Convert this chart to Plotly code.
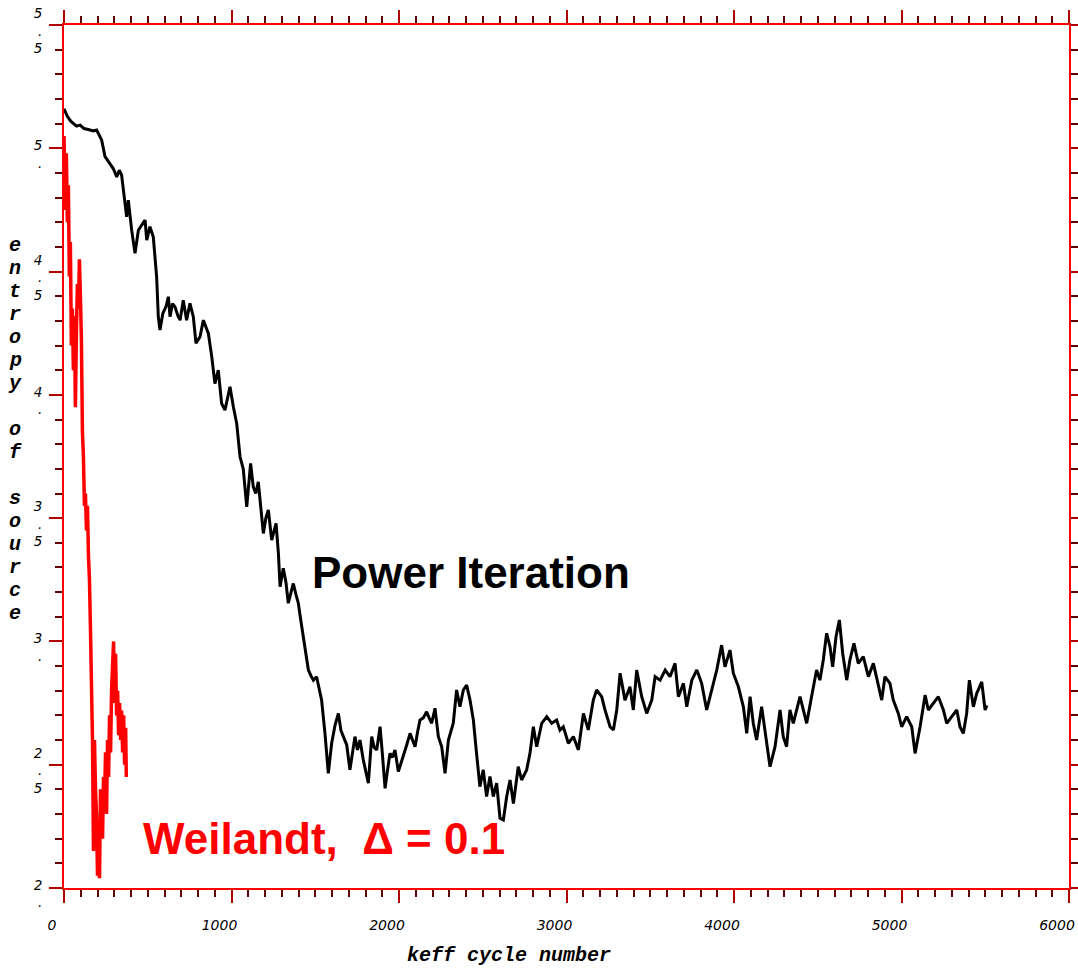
import plotly.graph_objects as go

# ---------------- data ----------------
power_x = [0, 20, 40, 56, 75, 96, 120, 150, 175, 195, 210, 225, 245, 264, 280, 294, 315, 330, 344, 364,
           374, 384, 404, 424, 444, 465, 484, 494, 513, 533, 553, 563, 573, 590, 610, 623, 633, 648, 663, 680,
           693, 712, 732, 752, 772, 788, 812, 832, 848, 862, 882, 901, 921, 941, 961, 978, 991, 1011, 1031, 1051,
           1070, 1091, 1114, 1130, 1145, 1160, 1175, 1190, 1205, 1220, 1240, 1266, 1280, 1290, 1309, 1325, 1339,
           1355, 1369, 1385, 1399, 1415, 1429, 1445, 1459, 1475, 1489, 1508, 1525, 1538, 1558, 1578, 1598, 1618,
           1638, 1653, 1668, 1688, 1707, 1722, 1737, 1752, 1767, 1787, 1805, 1817, 1837, 1852, 1867, 1887, 1900,
           1917, 1932, 1946, 1961, 1976, 1996, 2010, 2026, 2046, 2066, 2081, 2096, 2110, 2125, 2145, 2165, 2180,
           2195, 2215, 2235, 2255, 2275, 2295, 2310, 2324, 2344, 2364, 2384, 2404, 2424, 2444, 2463, 2483, 2503,
           2523, 2543, 2563, 2583, 2603, 2623, 2643, 2663, 2683, 2698, 2712, 2732, 2762, 2782, 2802, 2822, 2837,
           2852, 2882, 2912, 2941, 2961, 2981, 3011, 3041, 3071, 3101, 3130, 3160, 3180, 3210, 3230, 3260, 3280,
           3300, 3320, 3349, 3379, 3399, 3419, 3449, 3479, 3509, 3529, 3559, 3589, 3618, 3648, 3668, 3698, 3718,
           3748, 3778, 3807, 3837, 3867, 3897, 3926, 3946, 3976, 3996, 4026, 4056, 4076, 4096, 4115, 4135, 4165,
           4185, 4215, 4245, 4275, 4294, 4314, 4334, 4354, 4394, 4434, 4463, 4493, 4513, 4533, 4553, 4573, 4589,
           4609, 4629, 4649, 4673, 4692, 4716, 4742, 4772, 4802, 4832, 4862, 4882, 4901, 4931, 4951, 4981, 5001,
           5031, 5061, 5081, 5111, 5141, 5160, 5190, 5220, 5250, 5270, 5300, 5330, 5349, 5369, 5389, 5405, 5429,
           5449, 5479, 5499, 5510]
power_y = [5.16, 5.13, 5.11, 5.10, 5.09, 5.094, 5.08, 5.075, 5.07, 5.074, 5.05, 5.033, 4.966, 4.946, 4.93,
           4.918, 4.884, 4.911, 4.891, 4.79, 4.722, 4.79, 4.668, 4.574, 4.668, 4.69, 4.709, 4.628, 4.682, 4.641,
           4.479, 4.317, 4.263, 4.33, 4.36, 4.398, 4.317, 4.37, 4.357, 4.32, 4.303, 4.384, 4.303, 4.371, 4.317,
           4.209, 4.236, 4.303, 4.27, 4.249, 4.155, 4.046, 4.1, 3.965, 3.938, 4.0, 4.033, 3.952, 3.884, 3.749,
           3.70, 3.546, 3.722, 3.627, 3.60, 3.647, 3.55, 3.438, 3.50, 3.533, 3.411, 3.479, 3.357, 3.222, 3.297,
           3.24, 3.155, 3.20, 3.235, 3.19, 3.155, 3.08, 3.019, 2.95, 2.884, 2.86, 2.843, 2.857, 2.80, 2.762,
           2.627, 2.465, 2.587, 2.66, 2.708, 2.64, 2.614, 2.58, 2.479, 2.55, 2.614, 2.56, 2.60, 2.519, 2.47,
           2.425, 2.614, 2.57, 2.56, 2.654, 2.55, 2.404, 2.48, 2.546, 2.53, 2.56, 2.472, 2.50, 2.533, 2.58,
           2.627, 2.60, 2.573, 2.63, 2.681, 2.69, 2.715, 2.69, 2.668, 2.729, 2.614, 2.573, 2.465, 2.60, 2.64,
           2.668, 2.803, 2.735, 2.803, 2.823, 2.762, 2.681, 2.546, 2.411, 2.479, 2.371, 2.452, 2.371, 2.425,
           2.283, 2.276, 2.371, 2.438, 2.343, 2.42, 2.492, 2.438, 2.479, 2.546, 2.654, 2.573, 2.62, 2.668,
           2.695, 2.668, 2.681, 2.64, 2.654, 2.587, 2.614, 2.56, 2.708, 2.641, 2.762, 2.803, 2.776, 2.722,
           2.654, 2.641, 2.722, 2.871, 2.762, 2.816, 2.722, 2.884, 2.776, 2.708, 2.762, 2.857, 2.843, 2.884,
           2.857, 2.911, 2.776, 2.830, 2.735, 2.843, 2.884, 2.830, 2.722, 2.803, 2.884, 2.985, 2.897, 2.965,
           2.871, 2.816, 2.735, 2.627, 2.776, 2.668, 2.60, 2.735, 2.641, 2.492, 2.573, 2.722, 2.614, 2.573,
           2.722, 2.668, 2.776, 2.668, 2.776, 2.884, 2.843, 2.925, 3.033, 2.979, 2.897, 3.019, 3.087, 2.951,
           2.843, 2.925, 2.992, 2.911, 2.938, 2.857, 2.911, 2.816, 2.762, 2.857, 2.830, 2.762, 2.708, 2.654,
           2.695, 2.654, 2.546, 2.654, 2.783, 2.722, 2.749, 2.776, 2.722, 2.668, 2.695, 2.722, 2.654, 2.627,
           2.708, 2.843, 2.735, 2.789, 2.836, 2.722, 2.74]

weil_x = [0, 8, 14, 20, 26, 32, 38, 44, 50, 56, 62, 68, 74, 80, 86, 92, 98, 104, 110, 116, 122, 128, 134,
          140, 146, 152, 158, 164, 170, 176, 182, 188, 194, 200, 206, 212, 218, 224, 230, 236, 242, 248, 254,
          260, 266, 272, 278, 284, 290, 296, 302, 308, 314, 320, 326, 332, 338, 344, 350, 356, 362, 368, 372]
weil_y = [5.05, 4.75, 4.98, 4.70, 4.85, 4.48, 4.62, 4.20, 4.35, 4.10, 4.32, 3.95, 4.25, 4.45, 4.35, 4.55,
          4.40, 4.22, 3.85, 3.75, 3.55, 3.60, 3.45, 3.55, 3.35, 3.25, 3.05, 2.85, 2.60, 2.15, 2.60, 2.40, 2.30,
          2.05, 2.10, 2.04, 2.40, 2.30, 2.20, 2.45, 2.35, 2.55, 2.30, 2.60, 2.45, 2.70, 2.55, 2.80, 2.95, 3.00,
          2.75, 2.95, 2.70, 2.80, 2.62, 2.75, 2.60, 2.72, 2.55, 2.70, 2.50, 2.65, 2.45]

x_tick_vals = [0, 1000, 2000, 3000, 4000, 5000, 6000]
x_tick_text = ["0", "1000", "2000", "3000", "4000", "5000", "6000"]
y_tick_vals = [2.0, 2.5, 3.0, 3.5, 4.0, 4.5, 5.0, 5.5]
y_tick_text = ["2<br>.", "2<br>.<br>5", "3<br>.", "3<br>.<br>5", "4<br>.", "4<br>.<br>5", "5<br>.", "5<br>.<br>5"]

x_title = "keff cycle number"
y_title = "entropy of source"
label_power = "Power Iteration"
label_weil = "Weilandt,\u00a0 \u0394 = 0.1"

# ---------------- figure ----------------
fig = go.Figure()
fig.add_trace(go.Scatter(x=power_x, y=power_y, mode="lines",
                         line=dict(color="black", width=3), hoverinfo="skip"))
fig.add_trace(go.Scatter(x=weil_x, y=weil_y, mode="lines",
                         line=dict(color="#ff0000", width=3.5), hoverinfo="skip"))

axis_common = dict(showline=True, linecolor="#ff0000", linewidth=2, mirror="allticks",
                   ticks="outside", ticklen=13, tickwidth=1.5, tickcolor="#b00000",
                   showgrid=False, zeroline=False, automargin=False, ticklabeloverflow="allow")

fig.update_xaxes(range=[0, 6000], tickmode="array", tickvals=x_tick_vals, ticktext=x_tick_text,
                 minor=dict(dtick=100, ticklen=7, tickwidth=1.5, tickcolor="#600000", ticks="outside"),
                 tickfont=dict(family="DejaVu Sans", size=14, color="black", style="italic"),
                 ticklabelstandoff=10, ticklabelshift=-12, **axis_common)
fig.update_yaxes(range=[2, 5.5001], tickmode="array", tickvals=y_tick_vals, ticktext=y_tick_text,
                 minor=dict(dtick=0.1, ticklen=7, tickwidth=1.5, tickcolor="#600000", ticks="outside"),
                 tickfont=dict(family="DejaVu Sans", size=13.5, color="black", style="italic"),
                 ticklabelstandoff=4, ticklabelshift=6, **axis_common)

annotations = []
# x-axis title
annotations.append(dict(text=x_title, xref="paper", yref="paper", x=0.443, y=-0.078,
                        showarrow=False, xanchor="center", yanchor="middle",
                        font=dict(family="Liberation Mono", size=20, color="black",
                                  weight="bold", style="italic")))
# y-axis title, one character per line
for i, ch in enumerate(y_title):
    if ch == " ":
        continue
    py = 245 + i * 23
    annotations.append(dict(text=ch, xref="paper", yref="paper", x=(15 - 64) / 1005,
                            y=(888 - py) / 863, showarrow=False, xanchor="center", yanchor="middle",
                            font=dict(family="Liberation Mono", size=20, color="black",
                                      weight="bold", style="italic")))
annotations.append(dict(text=label_power, x=2430, y=3.28, xref="x", yref="y", showarrow=False,
                        xanchor="center", yanchor="middle",
                        font=dict(family="Liberation Sans", size=44, color="black", weight="bold")))
annotations.append(dict(text=label_weil, x=1552, y=2.2, xref="x", yref="y", showarrow=False,
                        xanchor="center", yanchor="middle",
                        font=dict(family="Liberation Sans", size=44, color="#ff0000", weight="bold")))

fig.update_layout(width=1078, height=970, margin=dict(l=64, r=9, t=25, b=82),
                  plot_bgcolor="white", paper_bgcolor="white", showlegend=False,
                  annotations=annotations)

fig.write_html("out.html", config={"displayModeBar": False},
               post_script="document.body.style.margin='0px';document.body.style.overflow='hidden';")
